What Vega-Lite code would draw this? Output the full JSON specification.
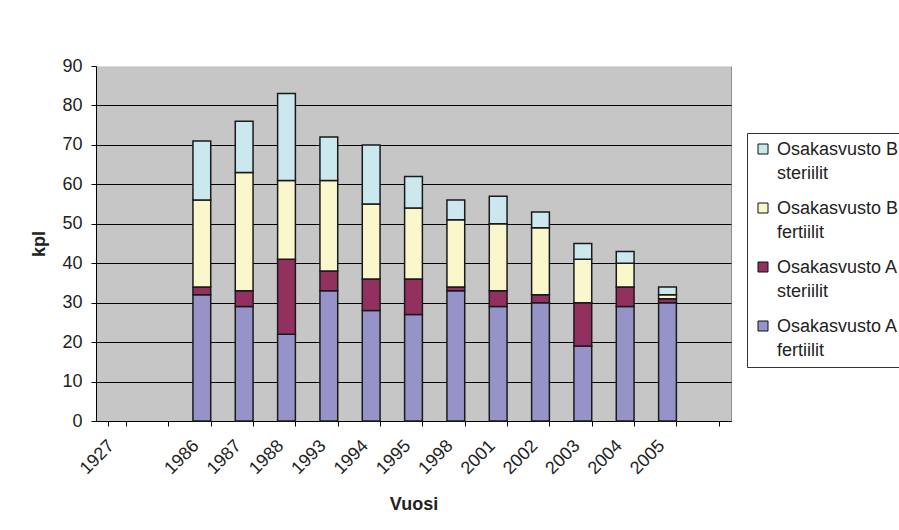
{
  "$schema": "https://vega.github.io/schema/vega-lite/v6.json",
  "width": 635,
  "height": 355,
  "autosize": {"type": "none"},
  "padding": {"left": 96, "top": 66, "right": 168, "bottom": 109},
  "background": "white",
  "data": {
    "values": [
      {"Vuosi": "1986", "Osakasvusto A fertiilit": 32, "Osakasvusto A steriilit": 2, "Osakasvusto B fertiilit": 22, "Osakasvusto B steriilit": 15},
      {"Vuosi": "1987", "Osakasvusto A fertiilit": 29, "Osakasvusto A steriilit": 4, "Osakasvusto B fertiilit": 30, "Osakasvusto B steriilit": 13},
      {"Vuosi": "1988", "Osakasvusto A fertiilit": 22, "Osakasvusto A steriilit": 19, "Osakasvusto B fertiilit": 20, "Osakasvusto B steriilit": 22},
      {"Vuosi": "1993", "Osakasvusto A fertiilit": 33, "Osakasvusto A steriilit": 5, "Osakasvusto B fertiilit": 23, "Osakasvusto B steriilit": 11},
      {"Vuosi": "1994", "Osakasvusto A fertiilit": 28, "Osakasvusto A steriilit": 8, "Osakasvusto B fertiilit": 19, "Osakasvusto B steriilit": 15},
      {"Vuosi": "1995", "Osakasvusto A fertiilit": 27, "Osakasvusto A steriilit": 9, "Osakasvusto B fertiilit": 18, "Osakasvusto B steriilit": 8},
      {"Vuosi": "1998", "Osakasvusto A fertiilit": 33, "Osakasvusto A steriilit": 1, "Osakasvusto B fertiilit": 17, "Osakasvusto B steriilit": 5},
      {"Vuosi": "2001", "Osakasvusto A fertiilit": 29, "Osakasvusto A steriilit": 4, "Osakasvusto B fertiilit": 17, "Osakasvusto B steriilit": 7},
      {"Vuosi": "2002", "Osakasvusto A fertiilit": 30, "Osakasvusto A steriilit": 2, "Osakasvusto B fertiilit": 17, "Osakasvusto B steriilit": 4},
      {"Vuosi": "2003", "Osakasvusto A fertiilit": 19, "Osakasvusto A steriilit": 11, "Osakasvusto B fertiilit": 11, "Osakasvusto B steriilit": 4},
      {"Vuosi": "2004", "Osakasvusto A fertiilit": 29, "Osakasvusto A steriilit": 5, "Osakasvusto B fertiilit": 6, "Osakasvusto B steriilit": 3},
      {"Vuosi": "2005", "Osakasvusto A fertiilit": 30, "Osakasvusto A steriilit": 1, "Osakasvusto B fertiilit": 1, "Osakasvusto B steriilit": 2}
    ]
  },
  "transform": [
    {"fold": ["Osakasvusto A fertiilit", "Osakasvusto A steriilit", "Osakasvusto B fertiilit", "Osakasvusto B steriilit"], "as": ["sarja", "kpl"]}
  ],
  "mark": {"type": "bar", "stroke": "#1a1a1a", "strokeWidth": 1.5},
  "encoding": {
    "x": {
      "field": "Vuosi",
      "type": "nominal",
      "title": "Vuosi",
      "scale": {
        "domain": ["1927", "_a", "1986", "1987", "1988", "1993", "1994", "1995", "1998", "2001", "2002", "2003", "2004", "2005", "_b"],
        "paddingInner": 0.58,
        "paddingOuter": 0.29
      },
      "axis": {
        "labelExpr": "indexof(datum.label, '_') === 0 ? '' : datum.label",
        "labelAngle": -45,
        "labelAlign": "right",
        "labelBaseline": "middle",
        "labelPadding": 17,
        "labelOffset": -6,
        "labelOverlap": false,
        "labelFontSize": 18,
        "labelColor": "#222222",
        "tickBand": "extent",
        "tickSize": 5,
        "tickColor": "#000000",
        "domainColor": "#000000",
        "grid": false,
        "titleFontSize": 18,
        "titleFontWeight": "bold",
        "titleColor": "#222222",
        "titlePadding": 18
      }
    },
    "y": {
      "field": "kpl",
      "type": "quantitative",
      "title": "kpl",
      "stack": "zero",
      "scale": {"domain": [0, 90], "nice": false},
      "axis": {
        "values": [0, 10, 20, 30, 40, 50, 60, 70, 80, 90],
        "grid": true,
        "gridColor": {"condition": {"test": "datum.value === 90", "value": "#dddddd"}, "value": "#000000"},
        "gridWidth": 1,
        "tickSize": 5,
        "tickColor": "#000000",
        "domainColor": "#000000",
        "labelPadding": 9,
        "labelFontSize": 18,
        "labelColor": "#222222",
        "titleFontSize": 18,
        "titleFontWeight": "bold",
        "titleColor": "#222222",
        "titlePadding": 13
      }
    },
    "color": {
      "field": "sarja",
      "type": "nominal",
      "scale": {
        "domain": ["Osakasvusto B steriilit", "Osakasvusto B fertiilit", "Osakasvusto A steriilit", "Osakasvusto A fertiilit"],
        "range": ["#CBE8EE", "#FAF7CD", "#923060", "#9693C8"]
      },
      "legend": {
        "orient": "none",
        "legendX": 651,
        "legendY": 67,
        "title": null,
        "labelExpr": "[substring(datum.label, 0, 13), substring(datum.label, 14)]",
        "labelFontSize": 18,
        "labelColor": "#222222",
        "labelBaseline": "top",
        "labelOffset": 5,
        "labelLimit": 300,
        "symbolType": "square",
        "symbolSize": 100,
        "symbolStrokeColor": "#111111",
        "symbolStrokeWidth": 1,
        "symbolOpacity": 1,
        "strokeColor": "#333333",
        "fillColor": "#ffffff",
        "padding": 7,
        "rowPadding": 16,
        "encode": {
          "labels": {"update": {"lineHeight": {"value": 24}, "dy": {"value": -8}}}
        }
      }
    },
    "order": {"field": "sarja", "sort": "ascending"}
  },
  "config": {
    "font": "Liberation Sans",
    "view": {"fill": "#C6C6C6", "stroke": "#8f8f8f", "strokeWidth": 1}
  }
}
